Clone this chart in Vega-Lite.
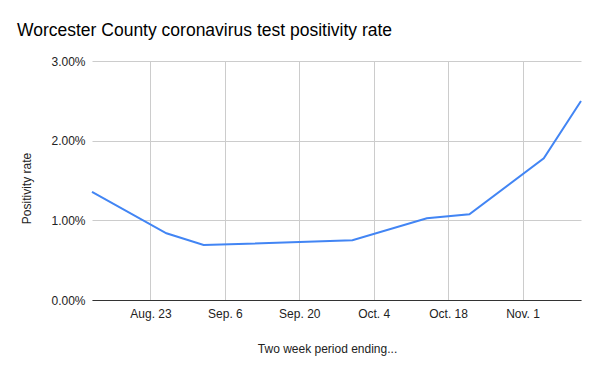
{
  "$schema": "https://vega.github.io/schema/vega-lite/v6.json",
  "autosize": "none",
  "width": 489,
  "height": 239,
  "padding": {"left": 92, "top": 61, "right": 19, "bottom": 71},
  "background": "white",
  "config": {
    "view": {"stroke": null},
    "font": "Liberation Sans",
    "axis": {"labelFont": "Liberation Sans", "titleFont": "Liberation Sans", "labelFontSize": 12, "titleFontSize": 12, "labelColor": "#222222", "titleColor": "#222222", "titleFontWeight": "normal", "gridColor": "#cccccc", "gridWidth": 1, "ticks": false}
  },
  "title": {
    "text": "Worcester County coronavirus test positivity rate",
    "anchor": "start",
    "frame": "group",
    "font": "Liberation Sans",
    "fontSize": 17.5,
    "fontWeight": "normal",
    "color": "#000000",
    "baseline": "alphabetic",
    "dx": -75,
    "dy": 2
  },
  "data": {
    "values": [
      {"date": "2020-08-12", "rate": 0.01356},
      {"date": "2020-08-26", "rate": 0.00837},
      {"date": "2020-09-02", "rate": 0.0069},
      {"date": "2020-09-30", "rate": 0.00749},
      {"date": "2020-10-14", "rate": 0.01025},
      {"date": "2020-10-22", "rate": 0.01076},
      {"date": "2020-11-05", "rate": 0.01778},
      {"date": "2020-11-12", "rate": 0.02498}
    ]
  },
  "mark": {"type": "line", "color": "#4285F4", "strokeWidth": 2},
  "encoding": {
    "x": {
      "field": "date",
      "type": "temporal",
      "scale": {"type": "utc", "domain": [{"year": 2020, "month": 8, "date": 12, "utc": true}, {"year": 2020, "month": 11, "date": 12, "utc": true}]},
      "axis": {
        "title": "Two week period ending...",
        "values": [
          {"year": 2020, "month": 8, "date": 23, "utc": true},
          {"year": 2020, "month": 9, "date": 6, "utc": true},
          {"year": 2020, "month": 9, "date": 20, "utc": true},
          {"year": 2020, "month": 10, "date": 4, "utc": true},
          {"year": 2020, "month": 10, "date": 18, "utc": true},
          {"year": 2020, "month": 11, "date": 1, "utc": true}
        ],
        "labelExpr": "utcFormat(datum.value, '%b. %-d')",
        "labelPadding": 8,
        "domainColor": "#333333",
        "domainWidth": 1,
        "titlePadding": 24,
        "titleX": 235
      }
    },
    "y": {
      "field": "rate",
      "type": "quantitative",
      "scale": {"domain": [0, 0.03]},
      "axis": {
        "title": "Positivity rate",
        "values": [0, 0.01, 0.02, 0.03],
        "format": ".2%",
        "domain": false,
        "labelPadding": 7,
        "titlePadding": 17,
        "titleY": 127
      }
    }
  }
}
